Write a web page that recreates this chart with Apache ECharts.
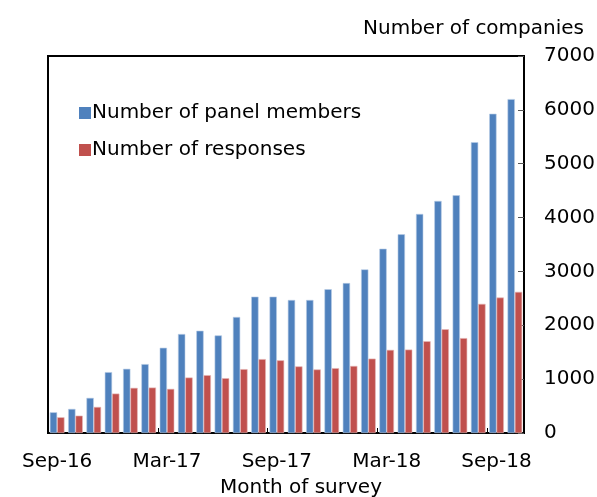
<!DOCTYPE html>
<html>
<head>
<meta charset="utf-8">
<script src="https://cdn.jsdelivr.net/npm/echarts@6/dist/echarts.min.js"></script>
<style>
  html, body { margin: 0; padding: 0; background: #fff; }
  #main { width: 597px; height: 497px; }
</style>
</head>
<body>
<div id="main"></div>
<script>
// 调查月份 Sep-16 .. Oct-18
const months = ['Sep-16', 'Oct-16', 'Nov-16', 'Dec-16', 'Jan-17', 'Feb-17', 'Mar-17', 'Apr-17', 'May-17',
  'Jun-17', 'Jul-17', 'Aug-17', 'Sep-17', 'Oct-17', 'Nov-17', 'Dec-17', 'Jan-18', 'Feb-18', 'Mar-18',
  'Apr-18', 'May-18', 'Jun-18', 'Jul-18', 'Aug-18', 'Sep-18', 'Oct-18'];
const panelMembers = [385, 447, 652, 1130, 1192, 1279, 1583, 1838, 1899, 1812, 2154, 2532, 2532,
  2470, 2470, 2670, 2784, 3038, 3422, 3690, 4067, 4309, 4414, 5400, 5928, 6200];
const responses = [292, 322, 484, 732, 838, 844, 819, 1030, 1074, 1018, 1186, 1372, 1350,
  1237, 1180, 1204, 1245, 1381, 1543, 1549, 1704, 1927, 1762, 2398, 2515, 2621];
const yTicks = [0, 1000, 2000, 3000, 4000, 5000, 6000, 7000];

const FONT = 'DejaVu Sans';
const FS = 20;
const chart = echarts.init(document.getElementById('main'), null, { renderer: 'canvas' });

const option = {
  animation: false,
  textStyle: { fontFamily: FONT },
  title: {
    text: 'Number of companies',
    right: 8,
    top: 14,
    textStyle: { fontFamily: FONT, fontSize: FS, fontWeight: 'normal', color: '#000' }
  },
  grid: {
    left: 48,
    right: 73,
    top: 56,
    bottom: 64,
    outerBoundsMode: 'none',
    show: true,
    borderColor: '#000',
    borderWidth: 2,
    backgroundColor: 'transparent'
  },
  legend: {
    orient: 'vertical',
    left: 74,
    top: 98,
    itemGap: 17,
    itemWidth: 12,
    itemHeight: 12,
    icon: 'rect',
    textStyle: { fontFamily: FONT, fontSize: FS, color: '#000', padding: [0, 0, 0, -4] },
    data: [
      { name: 'Number of panel members', itemStyle: { borderWidth: 0 } },
      { name: 'Number of responses', itemStyle: { borderWidth: 0 } }
    ]
  },
  xAxis: {
    type: 'category',
    data: months,
    boundaryGap: true,
    axisLine: { show: true, lineStyle: { color: '#000', width: 2 } },
    axisTick: { show: true, inside: true, length: 5, interval: 5, lineStyle: { color: '#000', width: 1 } },
    axisLabel: {
      interval: 5,
      margin: 19,
      fontFamily: FONT,
      fontSize: FS,
      color: '#000'
    },
    name: 'Month of survey',
    nameLocation: 'middle',
    nameGap: 45,
    nameTextStyle: { fontFamily: FONT, fontSize: FS, color: '#000', padding: [0, 0, 0, 30] }
  },
  yAxis: {
    type: 'value',
    position: 'right',
    min: 0,
    max: 7000,
    interval: 1000,
    axisLine: { show: true, onZero: false, lineStyle: { color: '#000', width: 2 } },
    axisTick: { show: true, inside: true, length: 6, lineStyle: { color: '#555', width: 1 } },
    splitLine: { show: false },
    axisLabel: {
      margin: 20,
      fontFamily: FONT,
      fontSize: FS,
      color: '#000',
      formatter: v => (yTicks.indexOf(v) >= 0 ? String(v) : '')
    }
  },
  series: [
    {
      name: 'Number of panel members',
      type: 'bar',
      data: panelMembers,
      barGap: '0%',
      barCategoryGap: '20%',
      itemStyle: { color: '#4F81BD', borderColor: '#B9CDE5', borderWidth: 0.6 }
    },
    {
      name: 'Number of responses',
      type: 'bar',
      data: responses,
      barGap: '0%',
      barCategoryGap: '20%',
      itemStyle: { color: '#C0504D', borderColor: '#E6B9B8', borderWidth: 0.6 }
    }
  ]
};

chart.setOption(option);
</script>
</body>
</html>
